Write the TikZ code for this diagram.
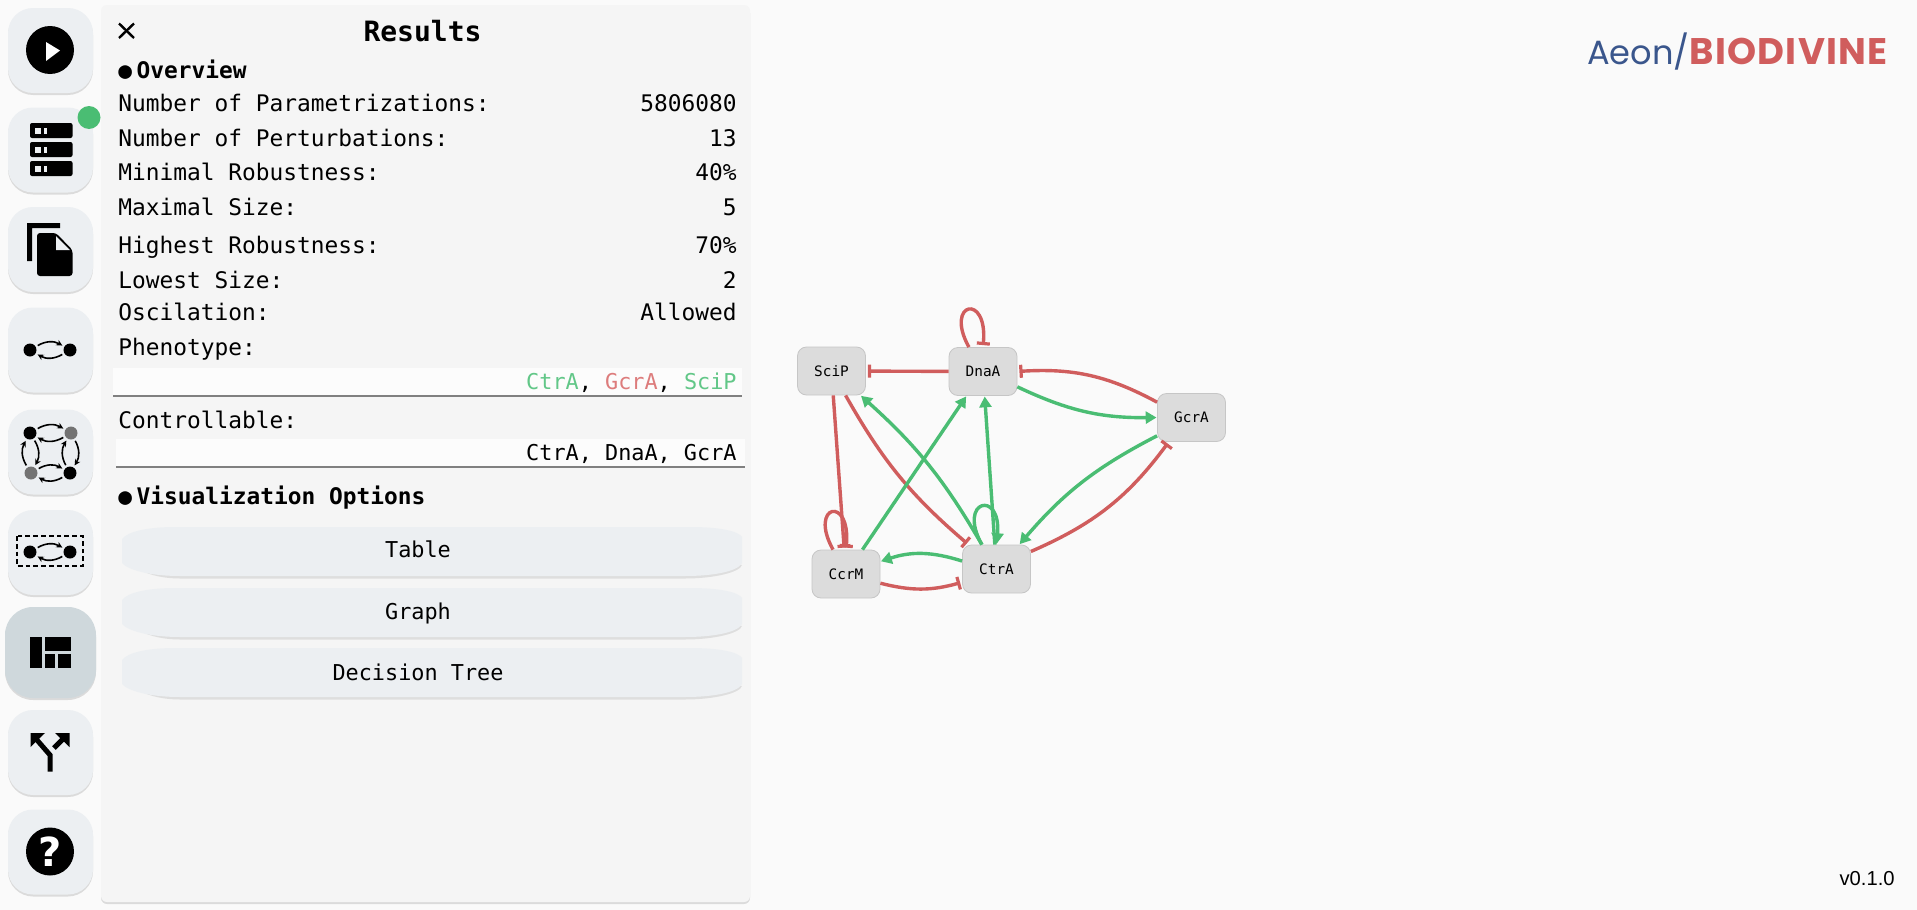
\documentclass[tikz,border=0pt]{standalone}
\usepackage{fontspec}
\setmainfont{Liberation Sans}
\setmonofont{DejaVu Sans Mono}
\newfontfamily\logofont{Poppins}
\newfontfamily\logobold[LetterSpace=3.4]{Poppins}
\newfontfamily\iconfont{DejaVu Sans}
\usetikzlibrary{arrows.meta,positioning,shadows}
\definecolor{pagebg}{HTML}{FAFAFA}
\definecolor{panelbg}{HTML}{F5F5F5}
\definecolor{btnbg}{HTML}{ECEFF2}
\definecolor{btnsel}{HTML}{CFD8DC}
\definecolor{genebg}{HTML}{DCDCDC}
\definecolor{geneln}{HTML}{C6C6C6}
\definecolor{actc}{HTML}{4ABD73}
\definecolor{inhc}{HTML}{D05D5D}
\definecolor{actl}{HTML}{62C788}
\definecolor{inhl}{HTML}{DD7C7C}
\definecolor{aeonc}{HTML}{3A568C}
% one unit is one pixel of the screenshot, y runs downwards
\begin{document}
\begin{tikzpicture}[
  x=0.5pt, y=-0.5pt,
  panel/.style={fill=panelbg, rounded corners=3pt, minimum width=324.5pt, minimum height=448.5pt, inner sep=0pt,
    drop shadow={shadow xshift=0pt, shadow yshift=-1pt, fill=black, opacity=.12}},
  side/.style={fill=btnbg, rounded corners=12.5pt, minimum size=42.5pt, inner sep=0pt,
    drop shadow={shadow xshift=0pt, shadow yshift=-1pt, fill=black, opacity=.12}},
  row/.style={font=\ttfamily\fontsize{11.42}{13}\selectfont, inner sep=0pt},
  small/.style={font=\ttfamily\fontsize{10.92}{13}\selectfont, inner sep=0pt},
  lbl/.style={row, anchor=base west},
  val/.style={row, anchor=base east},
  head/.style={row, anchor=base west, font=\ttfamily\bfseries\fontsize{11.42}{13}\selectfont},
  field/.style={fill=white!70!panelbg, minimum width=314.5pt, minimum height=13.5pt, inner sep=0pt},
  gene/.style={draw=geneln, fill=genebg, rounded corners=4.5pt, minimum width=34pt, minimum height=24pt,
    inner sep=0pt, font=\ttfamily\fontsize{7.2}{8}\selectfont},
  act/.style={draw=actc, line width=1.7pt, -{Triangle[length=5.4pt,width=6pt]}, shorten >=.3pt},
  inh/.style={draw=inhc, line width=1.7pt, -{Bar[width=6.5pt,line width=1.6pt]}, shorten >=1pt},
  dot/.style={circle, fill=black, minimum size=6.5pt, inner sep=0pt, outer sep=1.2pt},
  gdot/.style={dot, fill=black!55},
  iarr/.style={line width=.8pt, -{Stealth[length=3pt,width=3pt]}, bend left=30},
  ink/.style={fill=black, draw=none}
]
\fill[pagebg] (0,0) rectangle (1917,910);
\useasboundingbox (0,0) rectangle (1917,910);

% side bar
\node[panel] (results) at (425.5,453.5) {};
\foreach \n/\y in {run/50.5,data/150,file/249.5,net/350,pert/452,ctrl/552.5,tree/752.5,help/852}
  \node[side] (\n) at (50.5,\y) {};
\node[side, fill=btnsel, minimum size=45.5pt, rounded corners=14pt] (lay) at (50.5,652.5) {};
\fill[actc] (89,117.5) circle (11.5);

% icons
\fill[ink] (50,50) circle (24);
\fill[white] (46,42) -- (60,50.5) -- (46,61) -- cycle;
\foreach \y in {123,142,161} {
  \fill[ink, rounded corners=1pt] (30,\y) rectangle (72.5,\y+15);
  \fill[btnbg] (35,\y+5) rectangle (41,\y+10.5);
  \fill[btnbg] (43.5,\y+5) rectangle (46.5,\y+10.5);
}
\fill[ink] (27,223) -- (60,223) -- (60,228) -- (32,228) -- (32,261) -- (27,261) -- cycle;
\fill[ink, rounded corners=1.5pt] (37,233) -- (56,233) -- (72.5,250) -- (72.5,276) -- (37,276) -- cycle;
\fill[btnbg] (56,236) -- (56,250) -- (70,250) -- cycle;

\node[dot] (ga) at (30,350) {};
\node[dot] (gb) at (70,350) {};
\draw[iarr] (ga) to (gb);
\draw[iarr] (gb) to (ga);

\node[dot] (ra) at (30,433) {};
\node[gdot] (rb) at (71,433) {};
\node[gdot] (rc) at (31,473) {};
\node[dot] (rd) at (70,473) {};
\foreach \s/\e in {ra/rb,rb/ra,rb/rd,rd/rb,rd/rc,rc/rd,rc/ra,ra/rc}
  \draw[iarr] (\s) to (\e);

\draw[line width=1pt, dash pattern=on 2.4pt off 1.5pt] (16.5,536) rectangle (83,566);
\node[dot] (ua) at (30,552) {};
\node[dot] (ub) at (70,552) {};
\draw[iarr] (ua) to (ub);
\draw[iarr] (ub) to (ua);

\fill[ink] (30,637) rectangle (42,668);
\fill[ink] (45,637) rectangle (71,651);
\fill[ink] (45,654) rectangle (55,668);
\fill[ink] (58,654) rectangle (71,668);

\draw[line width=2.5pt] (50,771.5) -- (50,755) -- (37,740);
\draw[line width=2.5pt] (54,748) -- (63,739);
\fill[ink] (30.5,733) -- (45,733) -- (30.5,747) -- cycle;
\fill[ink] (69.5,733) -- (55,733) -- (69.5,747) -- cycle;

\fill[ink] (50,851.5) circle (24);
\node[text=white, inner sep=0pt, font=\iconfont\bfseries\fontsize{20}{20}\selectfont] (qmark) at (50,851.5) {?};

% results panel
\draw[line width=1.2pt] (119,23.5) -- (134,38);
\draw[line width=1.2pt] (134,23.5) -- (119,38);
\node[row, font=\ttfamily\bfseries\fontsize{14}{16}\selectfont, anchor=base] (title) at (422.5,41) {Results};
\node[head] (over) at (118,78) {{\fontsize{11.4}{13}\selectfont●}\kern2.2pt Overview};
\foreach \n/\y/\t/\v in {
  a/111.7/Number of Parametrizations:/5806080,
  b/146/Number of Perturbations:/13,
  c/180/Minimal Robustness:/40\%,
  d/215.7/Maximal Size:/5,
  e/253/Highest Robustness:/70\%,
  f/288/Lowest Size:/2,
  g/320/Oscilation:/Allowed} {
  \node[lbl] (lbl\n) at (118,\y) {\t};
  \node[val] (val\n) at (737,\y) {\v};
}
\node[lbl] (lblp) at (118,355) {Phenotype:};
\node[lbl] (lblk) at (118,428.5) {Controllable:};

\fill[black!50] (113,393.5) rectangle (742,396.5);
\fill[black!50] (116,464.5) rectangle (745,467.5);
\node[field] (phen) at (427.5,381) {};
\node[field] (cont) at (430.5,452) {};
\node[small, anchor=base east] (phenv) at (737,389) {\textcolor{actl}{CtrA}, \textcolor{inhl}{GcrA}, \textcolor{actl}{SciP}};
\node[small, anchor=base east] (contv) at (737,460) {CtrA, DnaA, GcrA};

\node[head] (vis) at (118,504) {{\fontsize{11.4}{13}\selectfont●}\kern2.2pt Visualization Options};
\foreach \n/\y/\b/\t in {table/527/557/Table,graph/588/619/Graph,dtree/648/680/Decision Tree} {
  \fill[black!13] (122,\y+20) .. controls (124,\y+40) and (150,\y+51.5) .. (180,\y+51.5) -- (685,\y+51.5)
    .. controls (715,\y+51.5) and (740,\y+45) .. (742,\y+38) -- cycle;
  \fill[btnbg] (122,\y+12) .. controls (128,\y+4) and (150,\y) .. (175,\y) -- (690,\y)
    .. controls (720,\y) and (738,\y+4) .. (742,\y+10) -- (742,\y+36)
    .. controls (738,\y+44) and (715,\y+49) .. (685,\y+49) -- (180,\y+49)
    .. controls (150,\y+49) and (128,\y+43) .. (122,\y+36) -- cycle;
  \node[small, anchor=base] (\n) at (418,\b) {\t};
}

% regulatory graph
\node[gene] (scip) at (831.5,371) {SciP};
\node[gene] (dnaa) at (983,371.5) {DnaA};
\node[gene] (gcra) at (1191.5,417.5) {GcrA};
\node[gene] (ccrm) at (846,574) {CcrM};
\node[gene] (ctra) at (996.5,569) {CtrA};

\draw[inh] (dnaa) -- (scip);
\draw[inh] (dnaa.120) .. controls +(-25,-45) and +(5,-55) .. (dnaa.north);
\draw[inh] (gcra.156) to[bend right=16] (dnaa.east);
\draw[act] (dnaa.-24) to[bend right=13] (gcra.west);
\draw[act] (gcra.208) to[bend right=11] (ctra.47);
\draw[inh] (ctra.27) to[bend right=15] (gcra.227);
\draw[act] (ctra) -- (dnaa);
\draw[act] (ctra.121) .. controls +(-25,-45) and +(5,-55) .. (ctra.north);
\draw[act] (ctra.121) to[bend right=9] (scip.-40);
\draw[inh] (scip.-60) to[bend right=10] (ctra.139);
\draw[inh] (scip) -- (ccrm);
\draw[inh] (ccrm.118) .. controls +(-25,-45) and +(5,-55) .. (ccrm.north);
\draw[act] (ctra.167) to[bend right=18] (ccrm.20);
\draw[inh] (ccrm.-15) to[bend right=15] (ctra.201);
\draw[act] (ccrm) -- (dnaa);

% logo and version
\node[inner sep=0pt, anchor=base east, font=\logobold\bfseries\fontsize{18.5}{20}\selectfont, text=inhc] (logob) at (1888,64) {BIODIVINE};
\node[inner sep=0pt, anchor=base east, font=\logofont\fontsize{16.8}{20}\selectfont, text=aeonc] (logoa) at (1690,64) {Aeon/};
\node[inner sep=0pt, anchor=base east, font=\fontsize{10.1}{12}\selectfont] (version) at (1895,885) {v0.1.0};
\end{tikzpicture}
\end{document}
